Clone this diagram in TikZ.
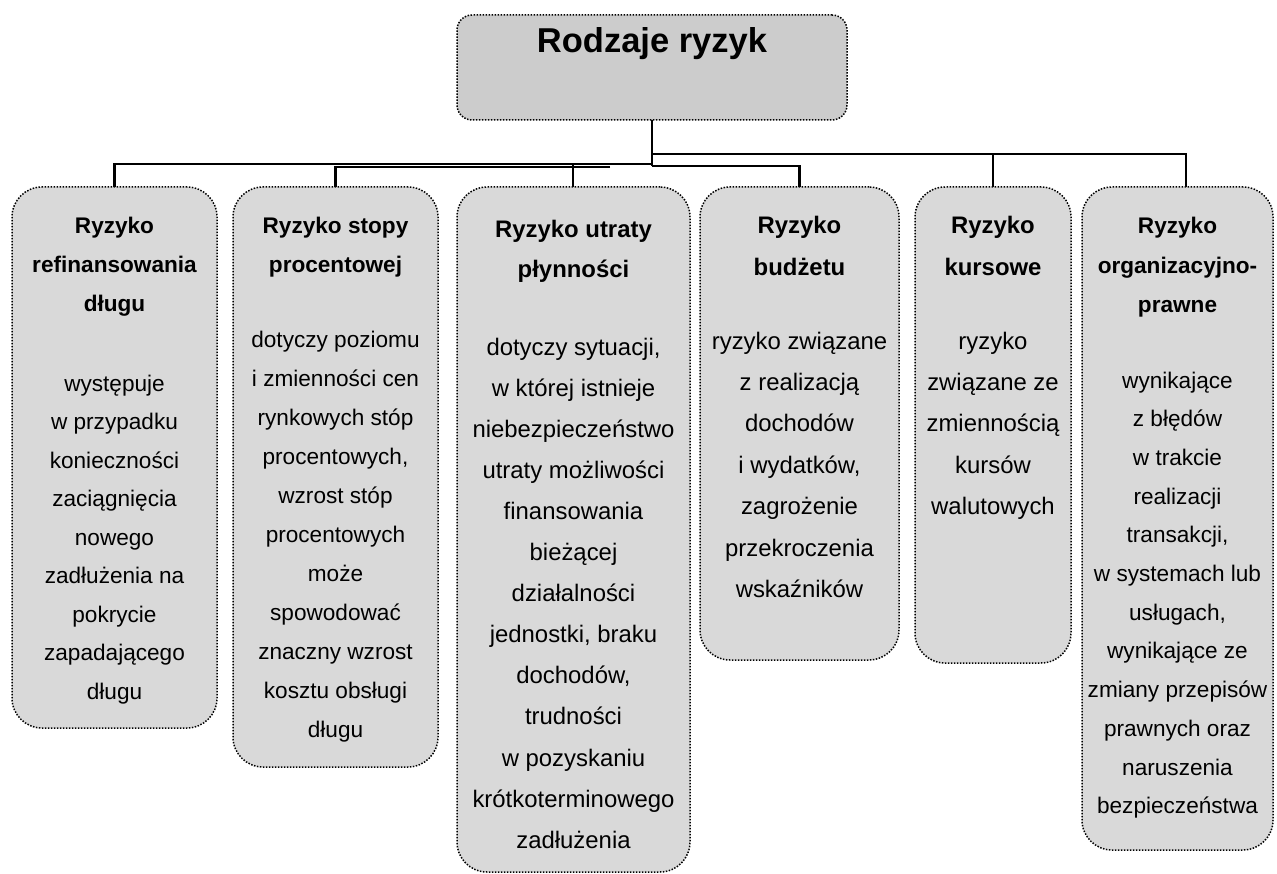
\documentclass[tikz,border=0pt]{standalone}
\usepackage{fontspec}
\setmainfont{Liberation Sans}
\definecolor{boxgray}{HTML}{D9D9D9}
\definecolor{topgray}{HTML}{CCCCCC}
\begin{document}
\begin{tikzpicture}[x=1pt,y=-1pt,
  rbox/.style={rectangle, draw=black, line width=1.5pt, dash pattern=on 1.5pt off 1.5pt,
    fill=boxgray, rounded corners=30pt, inner sep=0pt, outer sep=0pt, anchor=north west},
  conn/.style={draw=black, line width=2.8pt},
  ttl/.style 2 args={font=\bfseries\fontsize{#1}{#2}\selectfont, align=center, inner sep=0pt, anchor=base},
  bdy/.style 2 args={font=\fontsize{#1}{#2}\selectfont, align=center, inner sep=0pt, anchor=base}]
\useasboundingbox (0,0) rectangle (1277,874);

% top box
\node[rbox, fill=topgray, rounded corners=15pt, minimum width=390pt, minimum height=105pt] (top) at (457,15) {};
\node[ttl={34.5}{40}] (toptxt) at (652,53) {Rodzaje ryzyk};

% boxes
\node[rbox, minimum width=205pt, minimum height=541pt] (b1) at (12,187) {};
\node[rbox, minimum width=205pt, minimum height=580pt] (b2) at (233,187) {};
\node[rbox, minimum width=233pt, minimum height=685pt] (b3) at (457,187) {};
\node[rbox, minimum width=199pt, minimum height=473pt] (b4) at (700,187) {};
\node[rbox, minimum width=156pt, minimum height=476pt] (b5) at (915,187) {};
\node[rbox, minimum width=191pt, minimum height=663pt] (b6) at (1082,187) {};

% connectors
\coordinate (jr) at (652,154);
\coordinate (jm) at (652,166);
\coordinate (jl) at (652,164);
\coordinate (j2) at (610,167);
\coordinate (j3) at (573,164);
\coordinate (b6in) at (1186,187);
\draw[conn] (top.south) -- (jm);
\draw[conn] (jr) -| (b6in);
\draw[conn] (jr -| b5.north) -- (b5.north);
\draw[conn] (jm) -| (b4.north);
\draw[conn] (jl) -| (b1.north);
\draw[conn] (j2) -| (b2.north);
\draw[conn] (j3) -- (j3 |- b3.north);

% (anchor=base of a multi-line node = baseline of its last line)
% box 1
\node[ttl={22.6}{38.6}] (t1) at (114.5,311.2) {Ryzyko\\refinansowania\\długu};
\node[bdy={22.6}{38.5}] (d1) at (114.5,699) {występuje\\w przypadku\\konieczności\\zaciągnięcia\\nowego\\zadłużenia na\\pokrycie\\zapadającego\\długu};

% box 2
\node[ttl={22.6}{38.6}] (t2) at (335.5,272.6) {Ryzyko stopy\\procentowej};
\node[bdy={22.6}{39}] (d2) at (335.5,737) {dotyczy poziomu\\i zmienności cen\\rynkowych stóp\\procentowych,\\wzrost stóp\\procentowych\\może\\spowodować\\znaczny wzrost\\kosztu obsługi\\długu};

% box 3
\node[ttl={23.9}{40}] (t3) at (573.5,278) {Ryzyko utraty\\płynności};
\node[bdy={23.9}{41.1}] (d3) at (573.5,848.2) {dotyczy sytuacji,\\w której istnieje\\niebezpieczeństwo\\utraty możliwości\\finansowania\\bieżącej\\działalności\\jednostki, braku\\dochodów,\\trudności\\w pozyskaniu\\krótkoterminowego\\zadłużenia};

% box 4
\node[ttl={23.9}{42}] (t4) at (799.5,276) {Ryzyko\\budżetu};
\node[bdy={23.9}{41.4}] (d4) at (799.5,597.4) {ryzyko związane\\z realizacją\\dochodów\\i wydatków,\\zagrożenie\\przekroczenia\\wskaźników};

% box 5
\node[ttl={23.9}{42}] (t5) at (993,276) {Ryzyko\\kursowe};
\node[bdy={23.9}{41.4}] (d5) at (993,514.6) {ryzyko\\związane ze\\zmiennością\\kursów\\walutowych};

% box 6
\node[ttl={22.6}{39.5}] (t6) at (1177.5,313) {Ryzyko\\organizacyjno-\\prawne};
\node[bdy={22.6}{38.7}] (d6) at (1177.5,813.7) {wynikające\\z błędów\\w trakcie\\realizacji\\transakcji,\\w systemach lub\\usługach,\\wynikające ze\\zmiany przepisów\\prawnych oraz\\naruszenia\\bezpieczeństwa};
\end{tikzpicture}
\end{document}
